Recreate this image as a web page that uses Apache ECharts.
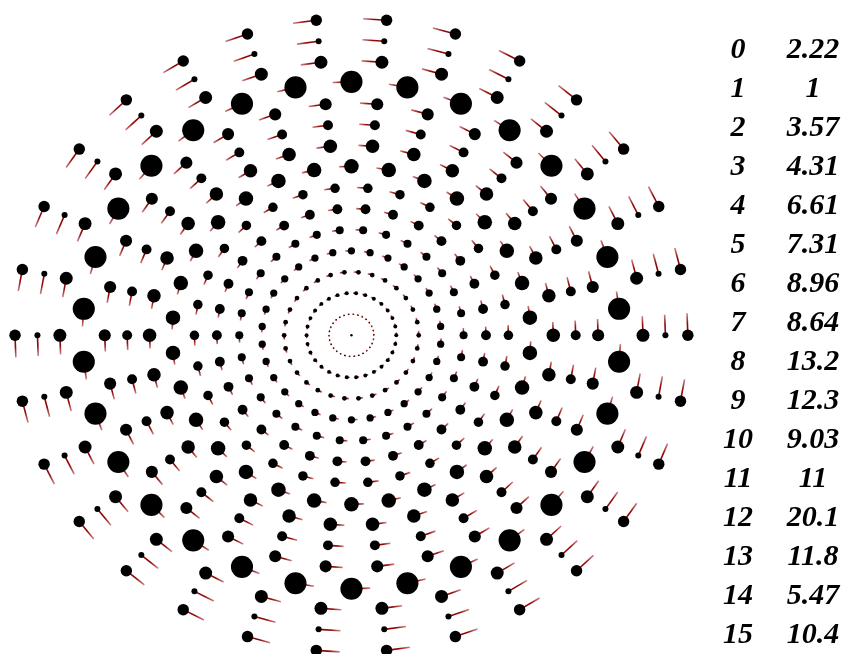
<!DOCTYPE html>
<html>
<head>
<meta charset="utf-8">
<script src="https://cdn.jsdelivr.net/npm/echarts@6/dist/echarts.min.js"></script>
<style>
  html, body { margin: 0; padding: 0; background: #fff; }
  #chart { width: 850px; height: 654px; }
</style>
</head>
<body>
<div id="chart"></div>
<script>
// ring index (radius in axis units) and dot size per ring, as listed in the key
const ringIndex = [0, 1, 2, 3, 4, 5, 6, 7, 8, 9, 10, 11, 12, 13, 14, 15];
const ringSize = [2.22, 1, 3.57, 4.31, 6.61, 7.31, 8.96, 8.64, 13.2, 12.3, 9.03, 11, 20.1, 11.8, 5.47, 10.4];
// which angle set each ring uses (A: starts at top, B: half-step rotated)
const ringPhase = ['C', 'B', 'B', 'B', 'A', 'B', 'B', 'B', 'A', 'B', 'B', 'B', 'A', 'B', 'B', 'B'];
// particle angles in degrees, counted counter-clockwise from the top
const anglesA = [0, 12, 24, 36, 48, 60, 72, 84, 96, 108, 120, 132, 144, 156, 168,
  180, 192, 204, 216, 228, 240, 252, 264, 276, 288, 300, 312, 324, 336, 348];
const anglesB = [6, 18, 30, 42, 54, 66, 78, 90, 102, 114, 126, 138, 150, 162, 174,
  186, 198, 210, 222, 234, 246, 258, 270, 282, 294, 306, 318, 330, 342, 354];
const anglesC = [0];
// trail length of each particle, in degrees of rotation
const trailSweep = 4;

const angleSets = { A: anglesA, B: anglesB, C: anglesC };

function toXY(r, deg) {
  const t = deg * Math.PI / 180;
  return [-r * Math.sin(t), r * Math.cos(t)];
}

const dots = [];
const trails = [];
ringIndex.forEach(function (r, k) {
  angleSets[ringPhase[k]].forEach(function (a) {
    const p = toXY(r, a);
    const q = toXY(r, a + trailSweep);
    dots.push([p[0], p[1], ringSize[k]]);
    trails.push([p[0], p[1], q[0], q[1]]);
  });
});

const chart = echarts.init(document.getElementById('chart'));

// key on the right: ring number and size
const keyText = [];
ringIndex.forEach(function (r, k) {
  const y = 50 + 39 * k;
  keyText.push({
    type: 'text', x: 738, y: y,
    style: { text: String(r), font: 'italic bold 30px "Liberation Serif"', fill: '#000', align: 'center', verticalAlign: 'middle' }
  });
  keyText.push({
    type: 'text', x: 813, y: y,
    style: { text: String(ringSize[k]), font: 'italic bold 30px "Liberation Serif"', fill: '#000', align: 'center', verticalAlign: 'middle' }
  });
});

const option = {
  animation: false,
  backgroundColor: '#fff',
  grid: { left: 0, right: 0, top: 0, bottom: 0, containLabel: false },
  xAxis: { type: 'value', min: -15.67, max: 22.23, show: false, splitLine: { show: false } },
  yAxis: { type: 'value', min: -15.09, max: 15.876, show: false, splitLine: { show: false } },
  graphic: keyText,
  series: [
    {
      type: 'scatter',
      data: dots,
      symbol: 'circle',
      symbolSize: function (v) { return v[2] * 1.1; },
      itemStyle: { color: '#000', opacity: 1 },
      silent: true
    },
    {
      type: 'custom',
      data: trails,
      silent: true,
      renderItem: function (params, api) {
        const p = api.coord([api.value(0), api.value(1)]);
        const q = api.coord([api.value(2), api.value(3)]);
        return {
          type: 'line',
          shape: { x1: p[0], y1: p[1], x2: q[0], y2: q[1] },
          style: {
            stroke: new echarts.graphic.LinearGradient(p[0], p[1], q[0], q[1], [
              { offset: 0, color: '#8b0000' },
              { offset: 0.55, color: '#900a0a' },
              { offset: 1, color: 'rgba(195,110,110,0.85)' }
            ], true),
            lineWidth: 1.6
          }
        };
      }
    }
  ]
};

chart.setOption(option);
</script>
</body>
</html>
